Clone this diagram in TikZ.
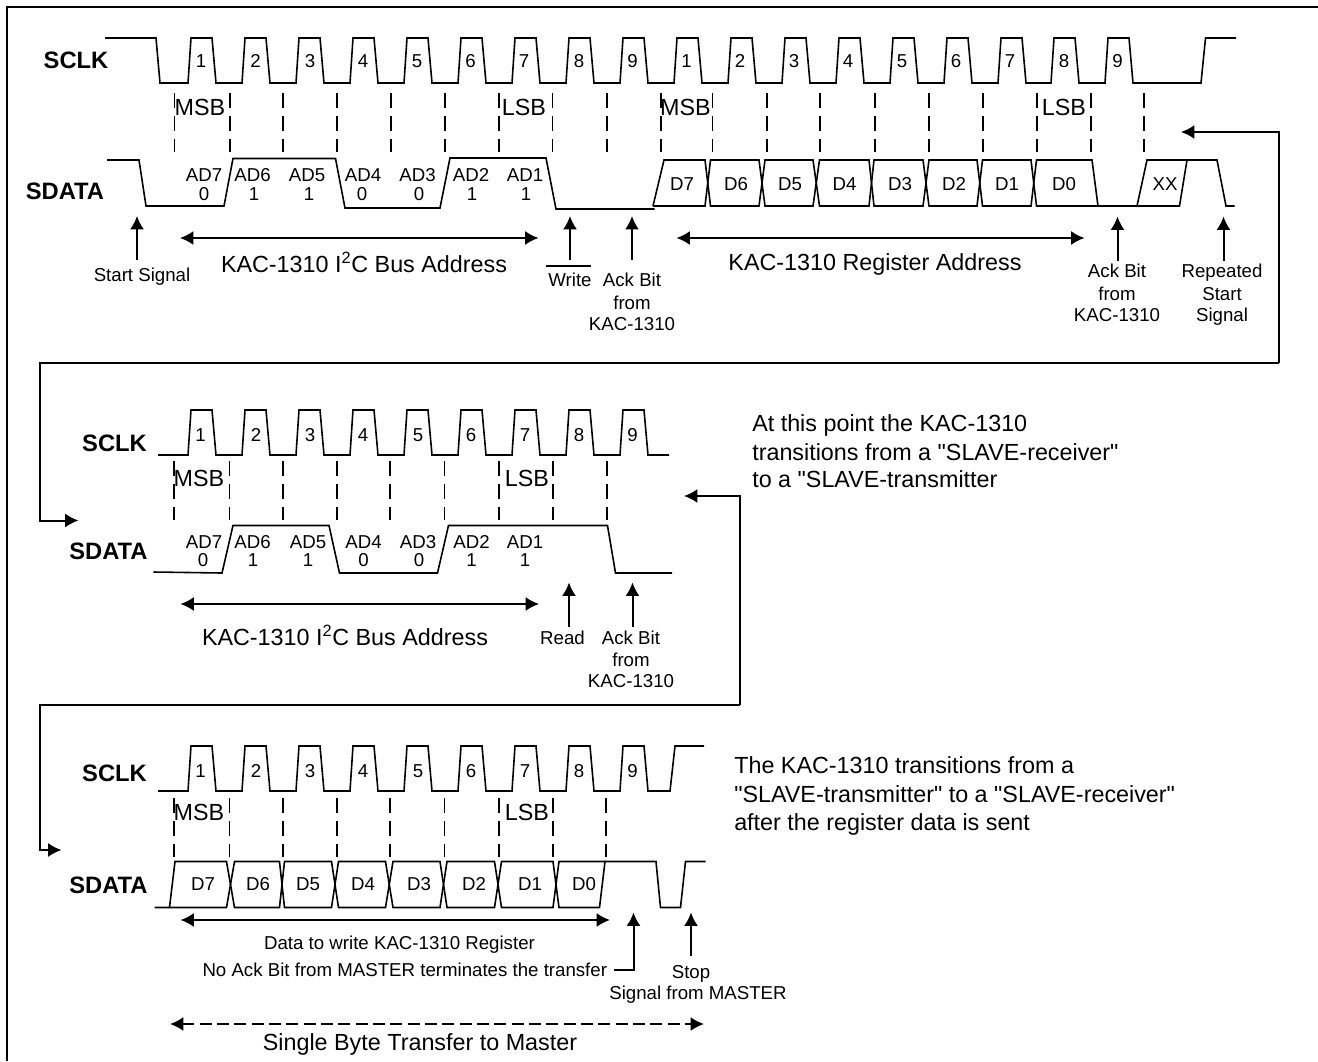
\documentclass[tikz,border=0pt]{standalone}
\usepackage{fontspec}
\setmainfont{Liberation Sans}
\usetikzlibrary{arrows.meta}

\tikzset{
  frameline/.style={line width=1.5pt},
  wave/.style={line width=1.2pt, line join=miter},
  bitline/.style={line width=1.3pt, dash pattern=on 11.25pt off 6pt},
  sigarrow/.style={line width=1.5pt, -{Latex[length=10pt,width=10.5pt]}},
  bothways/.style={line width=1.5pt, {Latex[length=10pt,width=10.5pt]}-{Latex[length=10pt,width=10.5pt]}},
  linkarrow/.style={line width=1.5pt, -{Latex[length=10pt,width=10.5pt]}},
  signame/.style={font=\bfseries\fontsize{17.8}{20}\selectfont, inner sep=0pt, anchor=mid, yshift=-3.5pt},
  num/.style={font=\fontsize{14}{16}\selectfont, inner sep=0pt, anchor=mid, yshift=-3pt},
  bigtxt/.style={font=\fontsize{17.5}{20}\selectfont, inner sep=0pt, anchor=mid, yshift=-3.5pt},
  smalltxt/.style={font=\fontsize{14}{16}\selectfont, inner sep=0pt, anchor=mid, yshift=-3pt},
  notetxt/.style={font=\fontsize{17.5}{20}\selectfont, inner sep=0pt, anchor=mid west, yshift=-3.5pt}
}

\begin{document}
\begin{tikzpicture}[x=0.75pt,y=-0.75pt]
\useasboundingbox (0,0) rectangle (1318,1061);

% frame, open on two sides
\draw[frameline] (6.5,1061) -- (6.5,6.5) -- (1318,6.5);

% first transfer
\node[signame] (sclkA) at (76,60) {SCLK};
\node[signame] (sdataA) at (65,191) {SDATA};

\draw[wave] (105,38) -- (156,38) -- (160,83) -- (188,83)
  -- (191,38) -- (212,38) -- (216,83) -- (242,83)
  -- (245,38) -- (266,38) -- (270,83) -- (296,83)
  -- (299,38) -- (320,38) -- (324,83) -- (350,83)
  -- (353,38) -- (374,38) -- (378,83) -- (404,83)
  -- (407,38) -- (428,38) -- (432,83) -- (458,83)
  -- (461,38) -- (482,38) -- (486,83) -- (512,83)
  -- (515,38) -- (536,38) -- (540,83) -- (566,83)
  -- (569,38) -- (590,38) -- (594,83) -- (620,83)
  -- (623,38) -- (644,38) -- (648,83) -- (674,83)
  -- (677,38) -- (698,38) -- (702,83) -- (728,83)
  -- (731,38) -- (752,38) -- (756,83) -- (782,83)
  -- (785,38) -- (806,38) -- (810,83) -- (836,83)
  -- (839,38) -- (860,38) -- (864,83) -- (890,83)
  -- (893,38) -- (914,38) -- (918,83) -- (944,83)
  -- (947,38) -- (968,38) -- (972,83) -- (998,83)
  -- (1001,38) -- (1022,38) -- (1026,83) -- (1051,83)
  -- (1054,38) -- (1075,38) -- (1079,83) -- (1105,83)
  -- (1108,38) -- (1129,38) -- (1133,83) -- (1201,83)
  -- (1205.5,38) -- (1236,38);

\node[num] (a1) at (201,60) {1};
\node[num] (a2) at (255.5,60) {2};
\node[num] (a3) at (310,60) {3};
\node[num] (a4) at (363,60) {4};
\node[num] (a5) at (417,60) {5};
\node[num] (a6) at (470.5,60) {6};
\node[num] (a7) at (524,60) {7};
\node[num] (a8) at (579,60) {8};
\node[num] (a9) at (632.5,60) {9};
\node[num] (b1) at (686.5,60) {1};
\node[num] (b2) at (740,60) {2};
\node[num] (b3) at (794,60) {3};
\node[num] (b4) at (848,60) {4};
\node[num] (b5) at (902,60) {5};
\node[num] (b6) at (956,60) {6};
\node[num] (b7) at (1010,60) {7};
\node[num] (b8) at (1064,60) {8};
\node[num] (b9) at (1117.5,60) {9};

\draw[bitline] (174.5,93) -- (174.5,152);
\draw[bitline] (230,93) -- (230,152);
\draw[bitline] (283,93) -- (283,152);
\draw[bitline] (337,93) -- (337,152);
\draw[bitline] (391,93) -- (391,152);
\draw[bitline] (445,93) -- (445,152);
\draw[bitline] (499,93) -- (499,152);
\draw[bitline] (552.5,93) -- (552.5,152);
\draw[bitline] (607,93) -- (607,152);
\draw[bitline] (661,93) -- (661,152);
\draw[bitline] (712.5,93) -- (712.5,152);
\draw[bitline] (767,93) -- (767,152);
\draw[bitline] (820,93) -- (820,152);
\draw[bitline] (875,93) -- (875,152);
\draw[bitline] (929,93) -- (929,152);
\draw[bitline] (983,93) -- (983,152);
\draw[bitline] (1037,93) -- (1037,152);
\draw[bitline] (1091,93) -- (1091,152);
\draw[bitline] (1144,93) -- (1144,152);

\node[bigtxt] (msbA) at (200,107) {MSB};
\node[bigtxt] (lsbA) at (524,107) {LSB};
\node[bigtxt] (msbB) at (685.5,107) {MSB};
\node[bigtxt] (lsbB) at (1064,107) {LSB};

\draw[wave] (107,160) -- (139,160) -- (146,206) -- (224,206) -- (233,158.5) -- (335.5,158.5)
  -- (345,208) -- (440,208) -- (450,158) -- (546,158) -- (556,209) -- (654.5,209);

% data byte, top edge then bottom edge
\draw[wave] (653,206) -- (664,160) -- (705,160) -- (710.5,206) -- (759,206) -- (765,160)
  -- (813,160) -- (819.5,206) -- (869,206) -- (874,160) -- (923,160) -- (929,206)
  -- (977,206) -- (982.5,160) -- (1031,160) -- (1036.5,206) -- (1098,206) -- (1137,206)
  -- (1147,160) -- (1217,160) -- (1226,206) -- (1234.5,206);
\draw[wave] (653,206) -- (705,206) -- (710.5,160) -- (759,160) -- (765,206) -- (813,206)
  -- (819.5,160) -- (869,160) -- (874,206) -- (923,206) -- (929,160) -- (977,160)
  -- (982.5,206) -- (1031,206) -- (1036.5,160) -- (1092,160) -- (1098,206);
\draw[wave] (1137,206) -- (1179.5,206) -- (1187,160);

\node[num] (ad7) at (204,174) {AD7};
\node[num] (ad6) at (252.5,174) {AD6};
\node[num] (ad5) at (307,174) {AD5};
\node[num] (ad4) at (363,174) {AD4};
\node[num] (ad3) at (417.5,174) {AD3};
\node[num] (ad2) at (471,174) {AD2};
\node[num] (ad1) at (525,174) {AD1};
\node[num] (v7) at (204,193) {0};
\node[num] (v6) at (254,193) {1};
\node[num] (v5) at (309,193) {1};
\node[num] (v4) at (362,193) {0};
\node[num] (v3) at (419,193) {0};
\node[num] (v2) at (472,193) {1};
\node[num] (v1) at (526,193) {1};

\node[num] (d7) at (682,183) {D7};
\node[num] (d6) at (736,183) {D6};
\node[num] (d5) at (790,183) {D5};
\node[num] (d4) at (844.5,183) {D4};
\node[num] (d3) at (900,183) {D3};
\node[num] (d2) at (954,183) {D2};
\node[num] (d1) at (1007,183) {D1};
\node[num] (d0) at (1064,183) {D0};
\node[num] (xx) at (1165,183) {XX};

\node[smalltxt] (startsig) at (142,274) {Start Signal};
\coordinate (startbase) at (137,260);
\coordinate (starttip) at (137,216);
\draw[sigarrow] (startbase) -- (starttip);

\coordinate (busAl) at (180,238);
\coordinate (busAr) at (538.5,238);
\draw[bothways] (busAl) -- (busAr);
\node[bigtxt] (busA) at (364,264) {KAC-1310 I\textsuperscript{2}C Bus Address};

\coordinate (wbase) at (570,260);
\coordinate (wtip) at (570,216);
\draw[sigarrow] (wbase) -- (wtip);
\node[smalltxt] (wr) at (570,279) {Write};
\coordinate (wbarl) at (546,266);
\coordinate (wbarr) at (591,266);
\draw[frameline] (wbarl) -- (wbarr);

\coordinate (ackAbase) at (632,260);
\coordinate (ackAtip) at (632,216);
\draw[sigarrow] (ackAbase) -- (ackAtip);
\node[smalltxt] (ackA1) at (632,279) {Ack Bit};
\node[smalltxt] (ackA2) at (632,302) {from};
\node[smalltxt] (ackA3) at (632,323) {KAC-1310};

\coordinate (regl) at (676.5,238);
\coordinate (regr) at (1084.5,238);
\draw[bothways] (regl) -- (regr);
\node[bigtxt] (regname) at (875,262) {KAC-1310 Register Address};

\coordinate (ackBbase) at (1117.5,261);
\coordinate (ackBtip) at (1117.5,216.5);
\draw[sigarrow] (ackBbase) -- (ackBtip);
\node[smalltxt] (ackB1) at (1117,270) {Ack Bit};
\node[smalltxt] (ackB2) at (1117,293) {from};
\node[smalltxt] (ackB3) at (1117,314) {KAC-1310};

\coordinate (repbase) at (1223.5,261);
\coordinate (reptip) at (1223.5,216.5);
\draw[sigarrow] (repbase) -- (reptip);
\node[smalltxt] (rep1) at (1222,270) {Repeated};
\node[smalltxt] (rep2) at (1222,293) {Start};
\node[smalltxt] (rep3) at (1222,314) {Signal};

% links between the transfers
\coordinate (linkAend) at (1181,132);
\coordinate (linkAa) at (1279,132);
\coordinate (linkAb) at (1279,363);
\coordinate (linkAc) at (40,363);
\coordinate (linkAd) at (40,520.5);
\coordinate (linkAtip) at (78.5,520.5);
\draw[linkarrow] (linkAb) -- (linkAa) -- (linkAend);
\draw[linkarrow] (linkAb) -- (linkAc) -- (linkAd) -- (linkAtip);

\coordinate (linkBend) at (684,496);
\coordinate (linkBa) at (739.5,496);
\coordinate (linkBb) at (739.5,705);
\coordinate (linkBc) at (40,705);
\coordinate (linkBd) at (40,850);
\coordinate (linkBtip) at (61.5,850);
\draw[linkarrow] (linkBb) -- (linkBa) -- (linkBend);
\draw[linkarrow] (linkBb) -- (linkBc) -- (linkBd) -- (linkBtip);

% second transfer
\node[signame] (sclkC) at (114.5,443) {SCLK};
\node[signame] (sdataC) at (108.5,551) {SDATA};

\draw[wave] (158,455) -- (188,455)
  -- (191,410) -- (212,410) -- (216,455) -- (242,455)
  -- (245,410) -- (266,410) -- (270,455) -- (296,455)
  -- (299,410) -- (320,410) -- (324,455) -- (350,455)
  -- (353,410) -- (374,410) -- (378,455) -- (404,455)
  -- (407,410) -- (428,410) -- (432,455) -- (458,455)
  -- (461,410) -- (482,410) -- (486,455) -- (512,455)
  -- (515,410) -- (536,410) -- (540,455) -- (566,455)
  -- (569,410) -- (590,410) -- (594,455) -- (620,455)
  -- (623,410) -- (644,410) -- (648,455) -- (669,455);

\node[num] (c1) at (200.5,434) {1};
\node[num] (c2) at (256,434) {2};
\node[num] (c3) at (310,434) {3};
\node[num] (c4) at (363,434) {4};
\node[num] (c5) at (418,434) {5};
\node[num] (c6) at (471,434) {6};
\node[num] (c7) at (525,434) {7};
\node[num] (c8) at (579,434) {8};
\node[num] (c9) at (632.5,434) {9};

\draw[bitline] (174,461) -- (174,520);
\draw[bitline] (229.5,461) -- (229.5,520);
\draw[bitline] (283,461) -- (283,520);
\draw[bitline] (337,461) -- (337,520);
\draw[bitline] (390,461) -- (390,520);
\draw[bitline] (444.5,461) -- (444.5,520);
\draw[bitline] (499,461) -- (499,520);
\draw[bitline] (553,461) -- (553,520);
\draw[bitline] (607,461) -- (607,520);

\node[bigtxt] (msbC) at (199,478) {MSB};
\node[bigtxt] (lsbC) at (527,478) {LSB};

\draw[wave] (153.5,572) -- (222,573) -- (233,525.5) -- (329,525.5) -- (339.5,573) -- (437.5,573)
  -- (448.5,525.5) -- (607.5,525.5) -- (615.5,573) -- (672,573);

\node[num] (cad7) at (204,541) {AD7};
\node[num] (cad6) at (252.5,541) {AD6};
\node[num] (cad5) at (308,541) {AD5};
\node[num] (cad4) at (363.5,541) {AD4};
\node[num] (cad3) at (418,541) {AD3};
\node[num] (cad2) at (471.5,541) {AD2};
\node[num] (cad1) at (525,541) {AD1};
\node[num] (cv7) at (203,559) {0};
\node[num] (cv6) at (253,559) {1};
\node[num] (cv5) at (308,559) {1};
\node[num] (cv4) at (363.5,559) {0};
\node[num] (cv3) at (419,559) {0};
\node[num] (cv2) at (471.5,559) {1};
\node[num] (cv1) at (525,559) {1};

\coordinate (busCl) at (180.5,604);
\coordinate (busCr) at (539,604);
\draw[bothways] (busCl) -- (busCr);
\node[bigtxt] (busC) at (345,637) {KAC-1310 I\textsuperscript{2}C Bus Address};

\coordinate (rbase) at (569,627);
\coordinate (rtip) at (569,582.5);
\draw[sigarrow] (rbase) -- (rtip);
\node[smalltxt] (rd) at (562.5,637) {Read};

\coordinate (ackCbase) at (632.5,627);
\coordinate (ackCtip) at (632.5,582.5);
\draw[sigarrow] (ackCbase) -- (ackCtip);
\node[smalltxt] (ackC1) at (631,637) {Ack Bit};
\node[smalltxt] (ackC2) at (631,659) {from};
\node[smalltxt] (ackC3) at (631,680) {KAC-1310};

\node[notetxt] (noteA1) at (752,423) {At this point the KAC-1310};
\node[notetxt] (noteA2) at (752,452) {transitions from a \textquotedbl SLAVE-receiver\textquotedbl};
\node[notetxt] (noteA3) at (752,479) {to a \textquotedbl SLAVE-transmitter};

% third transfer
\node[signame] (sclkD) at (114.5,773) {SCLK};
\node[signame] (sdataD) at (108.5,885.5) {SDATA};

\draw[wave] (158,791) -- (188,791)
  -- (191,746) -- (212,746) -- (216,791) -- (242,791)
  -- (245,746) -- (266,746) -- (270,791) -- (296,791)
  -- (299,746) -- (320,746) -- (324,791) -- (350,791)
  -- (353,746) -- (374,746) -- (378,791) -- (404,791)
  -- (407,746) -- (428,746) -- (432,791) -- (458,791)
  -- (461,746) -- (482,746) -- (486,791) -- (512,791)
  -- (515,746) -- (536,746) -- (540,791) -- (566,791)
  -- (569,746) -- (590,746) -- (594,791) -- (620,791)
  -- (623,746) -- (644,746) -- (648,791) -- (670,791)
  -- (675,746) -- (704,746);

\node[num] (e1) at (200.5,770) {1};
\node[num] (e2) at (256,770) {2};
\node[num] (e3) at (310,770) {3};
\node[num] (e4) at (363,770) {4};
\node[num] (e5) at (418,770) {5};
\node[num] (e6) at (471,770) {6};
\node[num] (e7) at (525,770) {7};
\node[num] (e8) at (579,770) {8};
\node[num] (e9) at (632.5,770) {9};

\draw[bitline] (174,798) -- (174,857);
\draw[bitline] (229.5,798) -- (229.5,857);
\draw[bitline] (283,798) -- (283,857);
\draw[bitline] (337,798) -- (337,857);
\draw[bitline] (390,798) -- (390,857);
\draw[bitline] (444.5,798) -- (444.5,857);
\draw[bitline] (499,798) -- (499,857);
\draw[bitline] (553,798) -- (553,857);
\draw[bitline] (606,798) -- (606,857);

\node[bigtxt] (msbE) at (199,812) {MSB};
\node[bigtxt] (lsbE) at (527,812) {LSB};

\draw[wave] (154.5,907.5) -- (169.5,907.5) -- (175,861.5) -- (226.5,861.5) -- (234.5,907.5) -- (279.5,907.5)
  -- (284.5,861.5) -- (331.5,861.5) -- (338.5,907.5) -- (385.5,907.5) -- (393,861.5) -- (440,861.5)
  -- (447,907.5) -- (494.5,907.5) -- (501.5,861.5) -- (553,861.5) -- (559,907.5) -- (599.5,907.5)
  -- (605,861.5) -- (656,861.5) -- (660.5,907.5) -- (680.5,907.5) -- (685.5,861.5) -- (705.5,861.5);
\draw[wave] (169.5,907.5) -- (226.5,907.5) -- (234.5,861.5) -- (279.5,861.5) -- (284.5,907.5) -- (331.5,907.5)
  -- (338.5,861.5) -- (385.5,861.5) -- (393,907.5) -- (440,907.5) -- (447,861.5) -- (494.5,861.5)
  -- (501.5,907.5) -- (553,907.5) -- (559,861.5) -- (605,861.5);

\node[num] (ed7) at (203,883) {D7};
\node[num] (ed6) at (258,883) {D6};
\node[num] (ed5) at (308,883) {D5};
\node[num] (ed4) at (363,883) {D4};
\node[num] (ed3) at (419,883) {D3};
\node[num] (ed2) at (474,883) {D2};
\node[num] (ed1) at (530,883) {D1};
\node[num] (ed0) at (584,883) {D0};

\coordinate (datal) at (180.5,920);
\coordinate (datar) at (610,920);
\draw[bothways] (datal) -- (datar);
\node[smalltxt] (datatxt) at (399.5,942) {Data to write KAC-1310 Register};

\node[smalltxt, anchor=mid east, inner xsep=5pt] (noack) at (614,969) {No Ack Bit from MASTER terminates the transfer};
\coordinate (noackbend) at (633.5,970);
\coordinate (noacktip) at (633.5,912.5);
\draw[sigarrow] (noack.east |- noackbend) -- (noackbend) -- (noacktip);

\coordinate (stopbase) at (691,956);
\coordinate (stoptip) at (691,912.5);
\draw[sigarrow] (stopbase) -- (stoptip);
\node[smalltxt] (stop1) at (691,971) {Stop};
\node[smalltxt] (stop2) at (698,992) {Signal from MASTER};

\coordinate (bytel) at (170,1024);
\coordinate (byter) at (704,1024);
\draw[bothways, dash pattern=on 9pt off 4pt] (bytel) -- (byter);
\node[bigtxt] (bytetxt) at (420,1042) {Single Byte Transfer to Master};

\node[notetxt] (noteE1) at (734,765) {The KAC-1310 transitions from a};
\node[notetxt] (noteE2) at (734,794) {\textquotedbl SLAVE-transmitter\textquotedbl{} to a \textquotedbl SLAVE-receiver\textquotedbl};
\node[notetxt] (noteE3) at (734,822) {after the register data is sent};
\end{tikzpicture}
\end{document}
